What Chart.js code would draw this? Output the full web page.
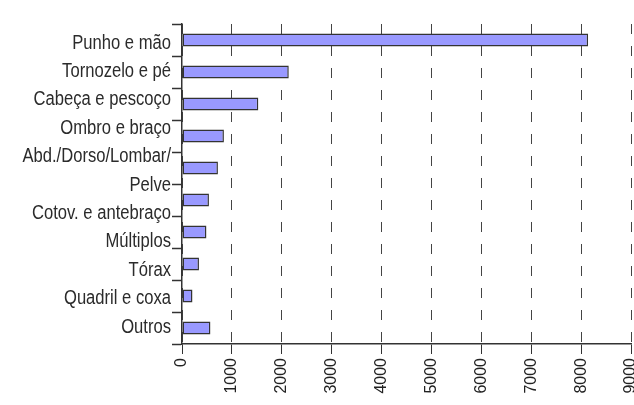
<!DOCTYPE html>
<html>
<head>
<meta charset="utf-8">
<script src="https://cdn.jsdelivr.net/npm/chart.js@4/dist/chart.umd.min.js"></script>
<style>
  html, body { margin: 0; padding: 0; background: #fff; }
  #wrap { width: 634px; height: 405px; position: relative; }
</style>
</head>
<body>
<div id="wrap"><canvas id="chart"></canvas></div>
<script>
// Regiões do corpo (de cima para baixo)
const regioes = [
    'Punho e mão',
    'Tornozelo e pé',
    'Cabeça e pescoço',
    'Ombro e braço',
    ['Abd./Dorso/Lombar/', 'Pelve'],
    'Cotov. e antebraço',
    'Múltiplos',
    'Tórax',
    'Quadril e coxa',
    'Outros'
];

// Número de casos
const casos = [8140, 2140, 1530, 840, 720, 540, 490, 340, 210, 570];

// Eixo x
const eixoMin = 0;
const eixoMax = 9000;
const eixoPasso = 1000;

// Rótulos do eixo y em fonte "estreita" (não há fonte condensada instalada,
// então comprimimos a Liberation Sans na horizontal). No original as 11 linhas
// de texto ficam igualmente espaçadas entre a primeira e a última categoria.
const rotulosEstreitos = {
    id: 'rotulosEstreitos',
    afterDraw(chart) {
        const c = chart.ctx;
        const y = chart.scales.y;
        const xFim = y.right - 11;
        const linhas = regioes.flat();
        const y0 = y.getPixelForTick(0) + 3;
        const y1 = y.getPixelForTick(regioes.length - 1) - 1;
        const passo = (y1 - y0) / (linhas.length - 1);
        c.save();
        c.fillStyle = '#2b2b2b';
        c.font = '20px "Liberation Sans", Arial, sans-serif';
        c.textAlign = 'right';
        c.textBaseline = 'middle';
        linhas.forEach((l, k) => {
            c.save();
            c.translate(xFim, y0 + k * passo);
            c.scale(0.83, 1);
            c.fillText(l, 0, 0);
            c.restore();
        });
        c.restore();
    }
};

const ctx = document.getElementById('chart').getContext('2d');
new Chart(ctx, {
    type: 'bar',
    data: {
        labels: regioes,
        datasets: [{
            data: casos,
            backgroundColor: '#9999ff',
            borderColor: '#333333',
            borderWidth: 1.5,
            borderSkipped: false,
            barPercentage: 0.4,
            categoryPercentage: 1.0
        }]
    },
    options: {
        indexAxis: 'y',
        responsive: true,
        maintainAspectRatio: false,
        animation: false,
        layout: { padding: { top: 24, right: 3, left: 0, bottom: 0 } },
        plugins: {
            legend: { display: false },
            tooltip: { enabled: false }
        },
        scales: {
            x: {
                min: eixoMin,
                max: eixoMax,
                ticks: {
                    stepSize: eixoPasso,
                    minRotation: 90,
                    maxRotation: 90,
                    padding: 4,
                    color: '#222',
                    font: { family: '"Liberation Sans", Arial, sans-serif', size: 16 },
                    callback: (v) => String(v)
                },
                grid: {
                    color: '#444',
                    lineWidth: 1,
                    tickLength: 10,
                    tickColor: '#333',
                    tickBorderDash: []
                },
                border: { display: true, color: '#333', width: 1.5, dash: [10, 12] },
                afterFit: (scale) => {
                    scale.height = 61;
                    scale.paddingLeft = 0;
                    scale.paddingRight = 0;
                }
            },
            y: {
                ticks: { display: false, autoSkip: false },
                grid: {
                    offset: true,
                    drawOnChartArea: false,
                    tickLength: 10,
                    tickColor: '#333',
                    tickWidth: 1.5
                },
                border: { display: true, color: '#333', width: 1.5 },
                afterFit: (scale) => {
                    scale.width = 182;
                    scale.paddingTop = 0;
                    scale.paddingBottom = 0;
                }
            }
        }
    },
    plugins: [rotulosEstreitos]
});
</script>
</body>
</html>
